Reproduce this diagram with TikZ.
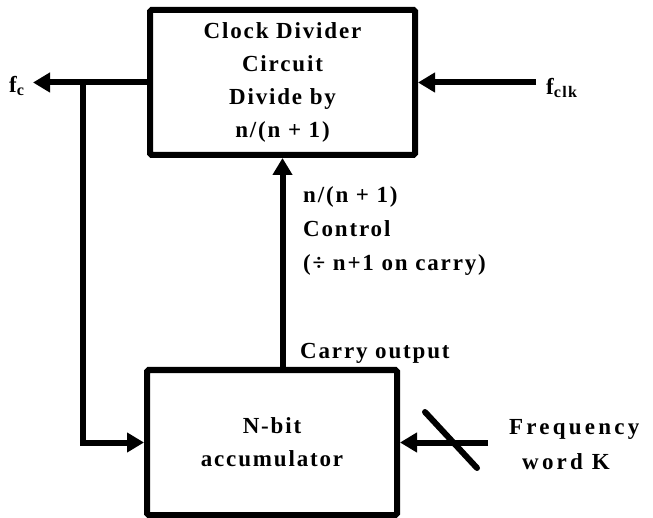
\documentclass[tikz,border=0pt]{standalone}
\usepackage{fontspec}
\setmainfont{Liberation Serif}[LetterSpace=8]
\newfontfamily\widefont{Liberation Serif}[LetterSpace=14]
\usetikzlibrary{arrows.meta}
\begin{document}
\begin{tikzpicture}[x=1pt,y=-1pt,
  wire/.style={line width=6pt},
  flow/.style={wire,-{Triangle[length=17pt,width=19pt]}},
  block/.style={draw,line width=6pt,rounded corners=1.5pt,align=center,
    inner sep=0pt,font=\fontsize{23}{33}\selectfont\bfseries},
  lbl/.style={inner sep=0pt,font=\fontsize{23}{34}\selectfont\bfseries}]
\useasboundingbox (0,0) rectangle (653,518);
% blocks
\node[block,minimum width=265pt,minimum height=145pt] (div) at (282.5,82.5)
  {Clock Divider\\Circuit\\Divide by\\n/(n + 1)};
\node[block,minimum width=250pt,minimum height=145pt] (acc) at (272,442.5)
  {N-bit\\accumulator};
% free ends
\coordinate (fcout) at (33,82.5);
\coordinate (tap) at (83,82.5);
\coordinate (clkin) at (536,82.5);
\coordinate (kin) at (488,442.5);
% connectors
\draw[flow] (div.west) -- (fcout);
\draw[flow] (tap) |- (acc.west);
\draw[flow] (clkin) -- (div.east);
\draw[flow] (div.south |- acc.north) -- (div.south);
\draw[flow] (kin) -- (acc.east);
% bus slash on the frequency word
\draw[wire,line cap=round] (425,412) -- (477,468);
% labels
\node[lbl,anchor=west] (fc) at (9,86) {f\textsubscript{c}};
\node[lbl,anchor=west] (fclk) at (546,88) {f\textsubscript{clk}};
\node[lbl,anchor=north west,align=left] (ctl) at (303,186)
  {n/(n + 1)\\Control\\(÷ n+1 on carry)};
\node[lbl,anchor=west] (carry) at (300,353) {Carry output};
\node[lbl,anchor=west] (freq) at (509,429) {\widefont\bfseries Frequency};
\node[lbl,anchor=west] (word) at (522,462) {\widefont\bfseries word K};
\end{tikzpicture}
\end{document}
